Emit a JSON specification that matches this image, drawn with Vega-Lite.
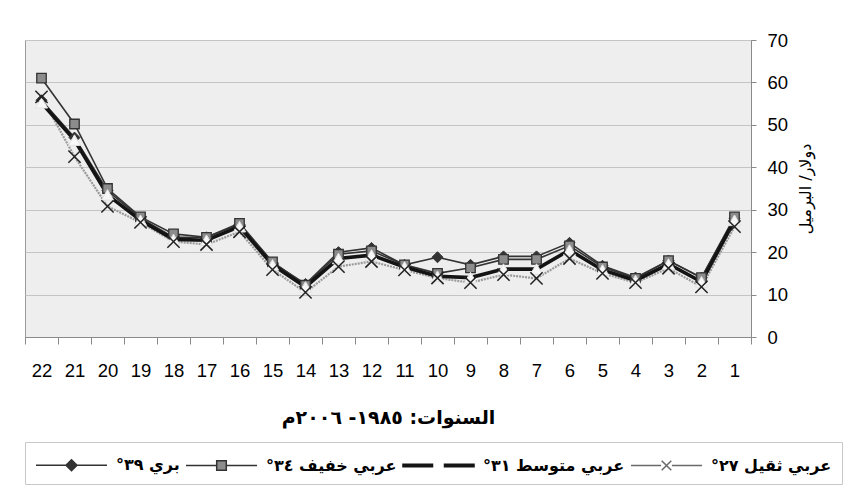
{
  "$schema": "https://vega.github.io/schema/vega-lite/v6.json",
  "width": 726,
  "height": 297,
  "autosize": {"type": "none"},
  "padding": {"left": 25, "top": 40, "right": 100, "bottom": 166},
  "background": "#ffffff",
  "config": {
    "view": {"fill": "#eeeeee", "stroke": "#9a9a9a", "strokeWidth": 1},
    "axis": {"labelColor": "#000000", "titleColor": "#000000"},
    "legend": {"orient": "none", "legendX": 0, "legendY": 402, "direction": "horizontal", "columns": 4, "title": null, "symbolSize": 576, "symbolOffset": 23.5, "labelOffset": 31.5, "symbolStrokeWidth": 1.5, "labelFont": "DejaVu Sans", "labelFontSize": 16, "labelFontWeight": "bold", "labelColor": "#000000", "strokeColor": "#c8c8c8", "padding": 10, "columnPadding": 2, "labelLimit": 300}
  },
  "data": {
    "values": [
      {"x": 22, "s": "عربي ثقيل ٢٧°", "v": 56.6}, {"x": 21, "s": "عربي ثقيل ٢٧°", "v": 42.5}, {"x": 20, "s": "عربي ثقيل ٢٧°", "v": 30.8}, {"x": 19, "s": "عربي ثقيل ٢٧°", "v": 27},
      {"x": 18, "s": "عربي ثقيل ٢٧°", "v": 22.5}, {"x": 17, "s": "عربي ثقيل ٢٧°", "v": 21.8}, {"x": 16, "s": "عربي ثقيل ٢٧°", "v": 24.8}, {"x": 15, "s": "عربي ثقيل ٢٧°", "v": 15.9},
      {"x": 14, "s": "عربي ثقيل ٢٧°", "v": 10.5}, {"x": 13, "s": "عربي ثقيل ٢٧°", "v": 16.6}, {"x": 12, "s": "عربي ثقيل ٢٧°", "v": 17.8}, {"x": 11, "s": "عربي ثقيل ٢٧°", "v": 15.8},
      {"x": 10, "s": "عربي ثقيل ٢٧°", "v": 13.9}, {"x": 9, "s": "عربي ثقيل ٢٧°", "v": 12.8}, {"x": 8, "s": "عربي ثقيل ٢٧°", "v": 14.7}, {"x": 7, "s": "عربي ثقيل ٢٧°", "v": 13.8},
      {"x": 6, "s": "عربي ثقيل ٢٧°", "v": 18.5}, {"x": 5, "s": "عربي ثقيل ٢٧°", "v": 15}, {"x": 4, "s": "عربي ثقيل ٢٧°", "v": 12.8}, {"x": 3, "s": "عربي ثقيل ٢٧°", "v": 16.2},
      {"x": 2, "s": "عربي ثقيل ٢٧°", "v": 11.8}, {"x": 1, "s": "عربي ثقيل ٢٧°", "v": 26},

      {"x": 22, "s": "عربي متوسط ٣١°", "v": 55.2}, {"x": 21, "s": "عربي متوسط ٣١°", "v": 46.4}, {"x": 20, "s": "عربي متوسط ٣١°", "v": 33.5}, {"x": 19, "s": "عربي متوسط ٣١°", "v": 27.5},
      {"x": 18, "s": "عربي متوسط ٣١°", "v": 23}, {"x": 17, "s": "عربي متوسط ٣١°", "v": 22.8}, {"x": 16, "s": "عربي متوسط ٣١°", "v": 26}, {"x": 15, "s": "عربي متوسط ٣١°", "v": 17},
      {"x": 14, "s": "عربي متوسط ٣١°", "v": 11.8}, {"x": 13, "s": "عربي متوسط ٣١°", "v": 18.5}, {"x": 12, "s": "عربي متوسط ٣١°", "v": 19.3}, {"x": 11, "s": "عربي متوسط ٣١°", "v": 16.5},
      {"x": 10, "s": "عربي متوسط ٣١°", "v": 14.3}, {"x": 9, "s": "عربي متوسط ٣١°", "v": 14}, {"x": 8, "s": "عربي متوسط ٣١°", "v": 16}, {"x": 7, "s": "عربي متوسط ٣١°", "v": 16},
      {"x": 6, "s": "عربي متوسط ٣١°", "v": 20.5}, {"x": 5, "s": "عربي متوسط ٣١°", "v": 15.8}, {"x": 4, "s": "عربي متوسط ٣١°", "v": 13.3}, {"x": 3, "s": "عربي متوسط ٣١°", "v": 17.2},
      {"x": 2, "s": "عربي متوسط ٣١°", "v": 13}, {"x": 1, "s": "عربي متوسط ٣١°", "v": 27.5},

      {"x": 22, "s": "عربي خفيف ٣٤°", "v": 61}, {"x": 21, "s": "عربي خفيف ٣٤°", "v": 50.2}, {"x": 20, "s": "عربي خفيف ٣٤°", "v": 35}, {"x": 19, "s": "عربي خفيف ٣٤°", "v": 28.3},
      {"x": 18, "s": "عربي خفيف ٣٤°", "v": 24.3}, {"x": 17, "s": "عربي خفيف ٣٤°", "v": 23.5}, {"x": 16, "s": "عربي خفيف ٣٤°", "v": 26.8}, {"x": 15, "s": "عربي خفيف ٣٤°", "v": 17.7},
      {"x": 14, "s": "عربي خفيف ٣٤°", "v": 12.2}, {"x": 13, "s": "عربي خفيف ٣٤°", "v": 19.5}, {"x": 12, "s": "عربي خفيف ٣٤°", "v": 20.3}, {"x": 11, "s": "عربي خفيف ٣٤°", "v": 17},
      {"x": 10, "s": "عربي خفيف ٣٤°", "v": 15}, {"x": 9, "s": "عربي خفيف ٣٤°", "v": 16.3}, {"x": 8, "s": "عربي خفيف ٣٤°", "v": 18.3}, {"x": 7, "s": "عربي خفيف ٣٤°", "v": 18.3},
      {"x": 6, "s": "عربي خفيف ٣٤°", "v": 21.5}, {"x": 5, "s": "عربي خفيف ٣٤°", "v": 16.5}, {"x": 4, "s": "عربي خفيف ٣٤°", "v": 13.8}, {"x": 3, "s": "عربي خفيف ٣٤°", "v": 18},
      {"x": 2, "s": "عربي خفيف ٣٤°", "v": 14}, {"x": 1, "s": "عربي خفيف ٣٤°", "v": 28.3},

      {"x": 22, "s": "بري ٣٩°", "v": 55.8}, {"x": 21, "s": "بري ٣٩°", "v": 47}, {"x": 20, "s": "بري ٣٩°", "v": 34.5}, {"x": 19, "s": "بري ٣٩°", "v": 28},
      {"x": 18, "s": "بري ٣٩°", "v": 23.5}, {"x": 17, "s": "بري ٣٩°", "v": 23.5}, {"x": 16, "s": "بري ٣٩°", "v": 26.5}, {"x": 15, "s": "بري ٣٩°", "v": 17.5},
      {"x": 14, "s": "بري ٣٩°", "v": 12.5}, {"x": 13, "s": "بري ٣٩°", "v": 20}, {"x": 12, "s": "بري ٣٩°", "v": 21}, {"x": 11, "s": "بري ٣٩°", "v": 17},
      {"x": 10, "s": "بري ٣٩°", "v": 18.8}, {"x": 9, "s": "بري ٣٩°", "v": 17}, {"x": 8, "s": "بري ٣٩°", "v": 19}, {"x": 7, "s": "بري ٣٩°", "v": 19},
      {"x": 6, "s": "بري ٣٩°", "v": 22.2}, {"x": 5, "s": "بري ٣٩°", "v": 16.8}, {"x": 4, "s": "بري ٣٩°", "v": 14}, {"x": 3, "s": "بري ٣٩°", "v": 18},
      {"x": 2, "s": "بري ٣٩°", "v": 14}, {"x": 1, "s": "بري ٣٩°", "v": 28}
    ]
  },
  "encoding": {
    "x": {
      "field": "x", "type": "ordinal", "sort": "descending",
      "scale": {"type": "band", "paddingInner": 0, "paddingOuter": 0},
      "axis": {
        "labelAngle": 0, "tickBand": "extent", "tickSize": 7, "tickColor": "#8a8a8a", "domainColor": "#8a8a8a",
        "labelFont": "Liberation Sans", "labelFontSize": 18.5, "labelPadding": 17,
        "title": "السنوات: ١٩٨٥- ٢٠٠٦م", "titleFont": "DejaVu Sans", "titleFontSize": 19, "titleFontWeight": "bold", "titlePadding": 29
      }
    },
    "y": {
      "field": "v", "type": "quantitative",
      "scale": {"domain": [0, 70], "nice": false, "zero": true},
      "axis": {
        "orient": "right", "values": [0, 10, 20, 30, 40, 50, 60, 70], "tickSize": 5, "tickColor": "#8a8a8a", "domainColor": "#8a8a8a",
        "grid": true, "gridColor": "#c4c4c4", "gridWidth": 1,
        "labelFont": "Liberation Sans", "labelFontSize": 18.5, "labelPadding": 11,
        "title": "دولار/ البرميل", "titleFont": "DejaVu Sans", "titleFontSize": 16, "titleFontWeight": "normal", "titleAngle": 270, "titleBaseline": "top", "titlePadding": 10
      }
    }
  },
  "layer": [
    {"transform": [{"filter": "datum.s == 'عربي ثقيل ٢٧°'"}], "mark": {"type": "line", "stroke": "#9a9a9a", "strokeWidth": 2.2, "strokeDash": [2, 1]}},
    {"transform": [{"filter": "datum.s == 'بري ٣٩°'"}], "mark": {"type": "line", "stroke": "#333333", "strokeWidth": 1.6}},
    {"transform": [{"filter": "datum.s == 'عربي خفيف ٣٤°'"}], "mark": {"type": "line", "stroke": "#333333", "strokeWidth": 1.6}},
    {"transform": [{"filter": "datum.s == 'عربي متوسط ٣١°'"}], "mark": {"type": "line", "stroke": "#141414", "strokeWidth": 3.6}},
    {"transform": [{"filter": "datum.s == 'بري ٣٩°'"}], "mark": {"type": "point", "shape": "diamond", "size": 121, "filled": true, "fill": "#333333", "stroke": "#333333", "strokeWidth": 1, "opacity": 1}},
    {"transform": [{"filter": "datum.s == 'عربي خفيف ٣٤°'"}], "mark": {"type": "point", "shape": "square", "size": 90, "filled": true, "fill": "#8c8c8c", "stroke": "#333333", "strokeWidth": 1.3, "opacity": 1}},
    {"transform": [{"filter": "datum.s == 'عربي متوسط ٣١°'"}], "mark": {"type": "point", "shape": "triangle-up", "size": 150, "filled": true, "fill": "#f7f7f7", "stroke": "#e2e2e2", "strokeWidth": 1, "opacity": 1}},
    {"transform": [{"filter": "datum.s == 'عربي ثقيل ٢٧°'"}], "mark": {"type": "point", "shape": "M-1,-1L1,1M-1,1L1,-1", "size": 150, "filled": false, "stroke": "#222222", "strokeWidth": 1.5, "opacity": 1}},
    {
      "transform": [{"filter": "datum.v < 0"}],
      "mark": {"type": "point", "filled": true, "opacity": 1},
      "encoding": {
        "shape": {
          "field": "s", "type": "nominal",
          "scale": {
            "domain": ["بري ٣٩°", "عربي خفيف ٣٤°", "عربي متوسط ٣١°", "عربي ثقيل ٢٧°"],
            "range": [
              "M-2.96,0H2.96M0,-0.46L0.46,0L0,0.46L-0.46,0Z",
              "M-2.96,0H-0.4M0.4,0H2.96M-0.4,-0.4H0.4V0.4H-0.4Z",
              "M-2.96,-0.1H-0.5V0.1H-2.96ZM0.5,-0.1H2.96V0.1H0.5Z",
              "M-2.96,0H-0.45M0.45,0H2.96M-0.4,-0.4L0.4,0.4M-0.4,0.4L0.4,-0.4"
            ]
          },
          "legend": {"labelExpr": "datum.label + '\u200f'"}
        },
        "fill": {
          "field": "s", "type": "nominal",
          "scale": {"domain": ["بري ٣٩°", "عربي خفيف ٣٤°", "عربي متوسط ٣١°", "عربي ثقيل ٢٧°"], "range": ["#333333", "#8c8c8c", "#141414", "#555555"]},
          "legend": {"labelExpr": "datum.label + '\u200f'"}
        },
        "stroke": {
          "field": "s", "type": "nominal",
          "scale": {"domain": ["بري ٣٩°", "عربي خفيف ٣٤°", "عربي متوسط ٣١°", "عربي ثقيل ٢٧°"], "range": ["#333333", "#333333", "#141414", "#6a6a6a"]},
          "legend": {"labelExpr": "datum.label + '\u200f'"}
        }
      }
    }
  ]
}
